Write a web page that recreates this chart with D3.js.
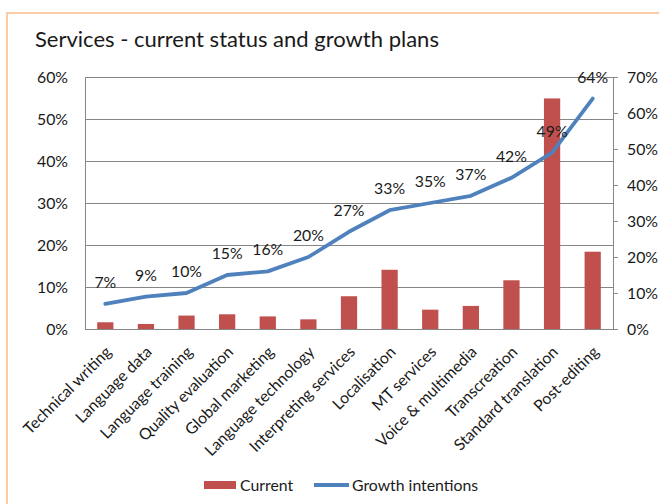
<!DOCTYPE html>
<html>
<head>
<meta charset="utf-8">
<script src="https://cdn.jsdelivr.net/npm/d3@7"></script>
<style>
  html, body { margin: 0; padding: 0; background: #fff; }
  svg { display: block; font-family: Lato, "Open Sans", sans-serif; }
</style>
</head>
<body>
<svg id="chart" width="659" height="504"></svg>
<script>
// Services: share currently offered (bars, left axis) and growth intentions (line, right axis)
const categories = [
  "Technical writing", "Language data", "Language training", "Quality evaluation",
  "Global marketing", "Language technology", "Interpreting services", "Localisation",
  "MT services", "Voice & multimedia", "Transcreation", "Standard translation", "Post-editing"
];
const currentShare = [1.6, 1.2, 3.2, 3.5, 3.0, 2.3, 7.8, 14.1, 4.6, 5.5, 11.6, 54.9, 18.4];
const growthIntentions = [7, 9, 10, 15, 16, 20, 27, 33, 35, 37, 42, 49, 64];
const leftTicks = [0, 10, 20, 30, 40, 50, 60];
const rightTicks = [0, 10, 20, 30, 40, 50, 60, 70];
const seriesNames = ["Current", "Growth intentions"];

const barColor = "#C0504D";
const lineColor = "#4F81BD";
const gridColor = "#868686";
const textColor = "#1a1a1a";
const fontSize = 15.8;

const svg = d3.select("#chart");
const plot = { left: 85, right: 613, top: 77, bottom: 329 };

// outer frame
svg.append("rect")
  .attr("x", 7).attr("y", 13)
  .attr("width", 700).attr("height", 600)
  .attr("fill", "none")
  .attr("stroke", "#FAC08F")
  .attr("stroke-width", 1.6);

// title
svg.append("text")
  .attr("x", 35).attr("y", 47)
  .attr("fill", textColor)
  .attr("font-size", 22)
  .text("Services - current status and growth plans");

const x = d3.scaleBand()
  .domain(categories)
  .range([plot.left, plot.right])
  .paddingInner(0.6)
  .paddingOuter(0.3);
const yLeft = d3.scaleLinear().domain([0, 60]).range([plot.bottom, plot.top]);
const yRight = d3.scaleLinear().domain([0, 70]).range([plot.bottom, plot.top]);
const pct = d => d + "%";

// horizontal gridlines
svg.append("g")
  .attr("transform", `translate(${plot.left},0)`)
  .call(d3.axisLeft(yLeft).tickValues(leftTicks).tickSize(-(plot.right - plot.left)).tickFormat(""))
  .call(g => g.select(".domain").remove())
  .call(g => g.selectAll("line").attr("stroke", gridColor).attr("stroke-width", 1));

// left axis
svg.append("g")
  .attr("transform", `translate(${plot.left},0)`)
  .call(d3.axisLeft(yLeft).tickValues(leftTicks).tickSize(0).tickSizeOuter(0).tickPadding(17).tickFormat(pct))
  .call(g => g.select(".domain").attr("stroke", gridColor))
  .call(g => g.selectAll("text").attr("fill", textColor).attr("font-size", fontSize).attr("font-family", "Lato, sans-serif"));

// right axis
svg.append("g")
  .attr("transform", `translate(${plot.right},0)`)
  .call(d3.axisRight(yRight).tickValues(rightTicks).tickSize(5).tickSizeOuter(0).tickPadding(9).tickFormat(pct))
  .call(g => g.select(".domain").attr("stroke", gridColor))
  .call(g => g.selectAll("line").attr("stroke", gridColor))
  .call(g => g.selectAll("text").attr("fill", textColor).attr("font-size", fontSize).attr("font-family", "Lato, sans-serif"));

// bars
svg.append("g")
  .selectAll("rect")
  .data(categories)
  .join("rect")
  .attr("x", d => x(d))
  .attr("width", x.bandwidth())
  .attr("y", (d, i) => yLeft(currentShare[i]))
  .attr("height", (d, i) => yLeft(0) - yLeft(currentShare[i]))
  .attr("fill", barColor);

// bottom axis with rotated category labels
svg.append("g")
  .attr("transform", `translate(0,${plot.bottom})`)
  .call(d3.axisBottom(x).tickSize(0).tickSizeOuter(0))
  .call(g => g.select(".domain").attr("stroke", gridColor))
  .call(g => g.selectAll(".tick text")
    .attr("fill", textColor)
    .attr("font-size", fontSize)
    .attr("font-family", "Lato, sans-serif")
    .attr("text-anchor", "end")
    .attr("dy", 0)
    .attr("y", 0)
    .attr("transform", "translate(7,24) rotate(-45)"));

// growth line
const line = d3.line()
  .x((d, i) => x(categories[i]) + x.bandwidth() / 2)
  .y(d => yRight(d));
svg.append("path")
  .datum(growthIntentions)
  .attr("d", line)
  .attr("fill", "none")
  .attr("stroke", lineColor)
  .attr("stroke-width", 3.8)
  .attr("stroke-linejoin", "round")
  .attr("stroke-linecap", "round");

// data labels on the line
svg.append("g")
  .selectAll("text")
  .data(growthIntentions)
  .join("text")
  .attr("x", (d, i) => x(categories[i]) + x.bandwidth() / 2)
  .attr("y", d => yRight(d) - 16)
  .attr("text-anchor", "middle")
  .attr("fill", textColor)
  .attr("font-size", fontSize)
  .text(pct);

// legend
const legend = svg.append("g");
legend.append("rect")
  .attr("x", 204).attr("y", 481)
  .attr("width", 32).attr("height", 8)
  .attr("fill", barColor);
legend.append("text")
  .attr("x", 240).attr("y", 490.5)
  .attr("fill", textColor).attr("font-size", fontSize)
  .text(seriesNames[0]);
legend.append("line")
  .attr("x1", 314).attr("x2", 349)
  .attr("y1", 485).attr("y2", 485)
  .attr("stroke", lineColor).attr("stroke-width", 3.8);
legend.append("text")
  .attr("x", 352).attr("y", 490.5)
  .attr("fill", textColor).attr("font-size", fontSize)
  .text(seriesNames[1]);
</script>
</body>
</html>
